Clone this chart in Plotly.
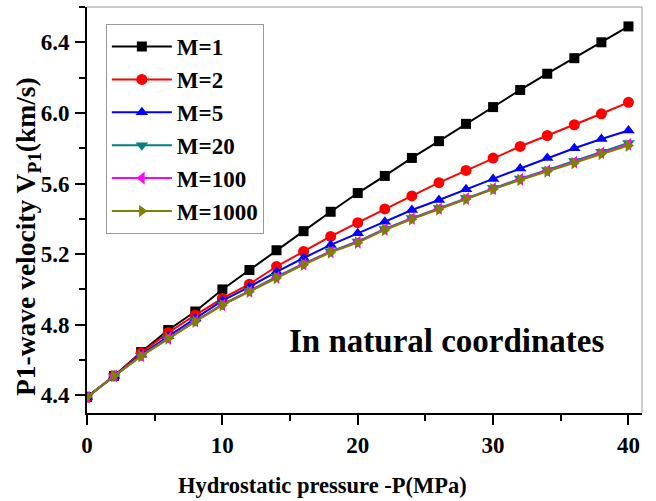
import plotly.graph_objects as go

pressure = [0, 2, 4, 6, 8, 10, 12, 14, 16, 18, 20, 22, 24, 26, 28, 30, 32, 34, 36, 38, 40]
v_m1 = [4.39, 4.51, 4.645, 4.77, 4.875, 5.00, 5.11, 5.222, 5.33, 5.44, 5.546, 5.643, 5.745, 5.84, 5.938, 6.033, 6.13, 6.222, 6.31, 6.40, 6.49]
v_m2 = [4.39, 4.51, 4.64, 4.755, 4.855, 4.949, 5.03, 5.13, 5.215, 5.30, 5.378, 5.456, 5.53, 5.605, 5.674, 5.744, 5.81, 5.872, 5.933, 5.995, 6.06]
v_m5 = [4.39, 4.51, 4.63, 4.735, 4.835, 4.936, 5.015, 5.10, 5.178, 5.252, 5.318, 5.384, 5.45, 5.507, 5.568, 5.626, 5.685, 5.744, 5.80, 5.852, 5.90]
v_m20 = [4.39, 4.51, 4.625, 4.725, 4.822, 4.915, 4.992, 5.072, 5.146, 5.216, 5.272, 5.343, 5.404, 5.461, 5.518, 5.575, 5.628, 5.677, 5.727, 5.780, 5.830]
v_m100 = [4.39, 4.51, 4.623, 4.723, 4.820, 4.913, 4.989, 5.068, 5.143, 5.213, 5.268, 5.340, 5.401, 5.457, 5.514, 5.571, 5.624, 5.672, 5.721, 5.774, 5.822]
v_m1000 = [4.39, 4.51, 4.622, 4.722, 4.818, 4.911, 4.987, 5.065, 5.140, 5.210, 5.265, 5.337, 5.398, 5.454, 5.511, 5.568, 5.620, 5.668, 5.716, 5.768, 5.815]

names = ["M=1", "M=2", "M=5", "M=20", "M=100", "M=1000"]
series = [v_m1, v_m2, v_m5, v_m20, v_m100, v_m1000]
colors = ["#000000", "#ff0000", "#0000ff", "#008080", "#ff00ff", "#808000"]
symbols = ["square", "circle", "triangle-up", "triangle-down", "triangle-left", "triangle-right"]
sizes = [10, 11, 11, 11, 11, 11]

FONT = "Liberation Serif"
W, H = 656, 501
ML, MR, MT, MB = 87, 14, 7, 88

fig = go.Figure()
for n, s, c, sym, sz in zip(names, series, colors, symbols, sizes):
    fig.add_trace(go.Scatter(
        x=pressure, y=s, name=n, mode="lines+markers",
        line=dict(color=c, width=2),
        marker=dict(symbol=sym, size=sz, color=c),
    ))

pw = W - ML - MR
ph = H - MT - MB

def px_x(p):
    return (p - ML) / pw

def px_y(p):
    return (H - MB - p) / ph

fig.update_layout(
    width=W, height=H,
    margin=dict(l=ML, r=MR, t=MT, b=MB),
    plot_bgcolor="white", paper_bgcolor="white",
    font=dict(family=FONT, color="black"),
    showlegend=True,
    legend=dict(
        x=0.034, y=0.958, xanchor="left", yanchor="top",
        bordercolor="#999999", borderwidth=1, bgcolor="white",
        font=dict(family=FONT, size=23, weight="bold"),
        itemwidth=60, tracegroupgap=0,
    ),
    xaxis=dict(
        range=[0, 41], dtick=10, tick0=0, automargin=False,
        ticks="outside", ticklen=10, tickwidth=1.5, tickcolor="black",
        minor=dict(dtick=5, ticks="outside", ticklen=6, tickcolor="black"),
        showgrid=False, zeroline=False,
        showline=True, linecolor="black", linewidth=2,
        tickfont=dict(family=FONT, size=23, weight="bold"),
    ),
    yaxis=dict(
        range=[4.3, 6.6], dtick=0.4, tick0=4.4, tickformat=".1f", automargin=False,
        ticks="outside", ticklen=10, tickwidth=1.5, tickcolor="black",
        minor=dict(dtick=0.2, ticks="outside", ticklen=6, tickcolor="black"),
        showgrid=False, zeroline=False,
        showline=True, linecolor="black", linewidth=2,
        ticklabelstandoff=1,
        tickfont=dict(family=FONT, size=23, weight="bold"),
    ),
    annotations=[
        dict(text="<b>In natural coordinates</b>", x=0.648, y=0.128, xref="paper", yref="paper",
             showarrow=False, font=dict(family=FONT, size=33, color="black")),
        dict(text="<b>Hydrostatic pressure -P(MPa)</b>", x=px_x(322), y=px_y(485), xref="paper", yref="paper",
             xanchor="center", yanchor="middle", showarrow=False, font=dict(family=FONT, size=22.5, color="black")),
        dict(text="<b>P1-wave velocity V<sub>P1</sub>(km/s)</b>", x=px_x(27), y=px_y(237), xref="paper", yref="paper",
             xanchor="center", yanchor="middle", textangle=-90, showarrow=False,
             font=dict(family=FONT, size=27.5, color="black")),
    ],
    shapes=[
        dict(type="line", xref="paper", yref="paper", x0=0, x1=1, y0=1, y1=1, line=dict(color="#999999", width=1)),
        dict(type="line", xref="paper", yref="paper", x0=1, x1=1, y0=0, y1=1, line=dict(color="#999999", width=1)),
    ],
)

fig.write_html("out.html", config={"displayModeBar": False},
               post_script="document.body.style.margin='0';document.body.style.overflow='hidden';")
